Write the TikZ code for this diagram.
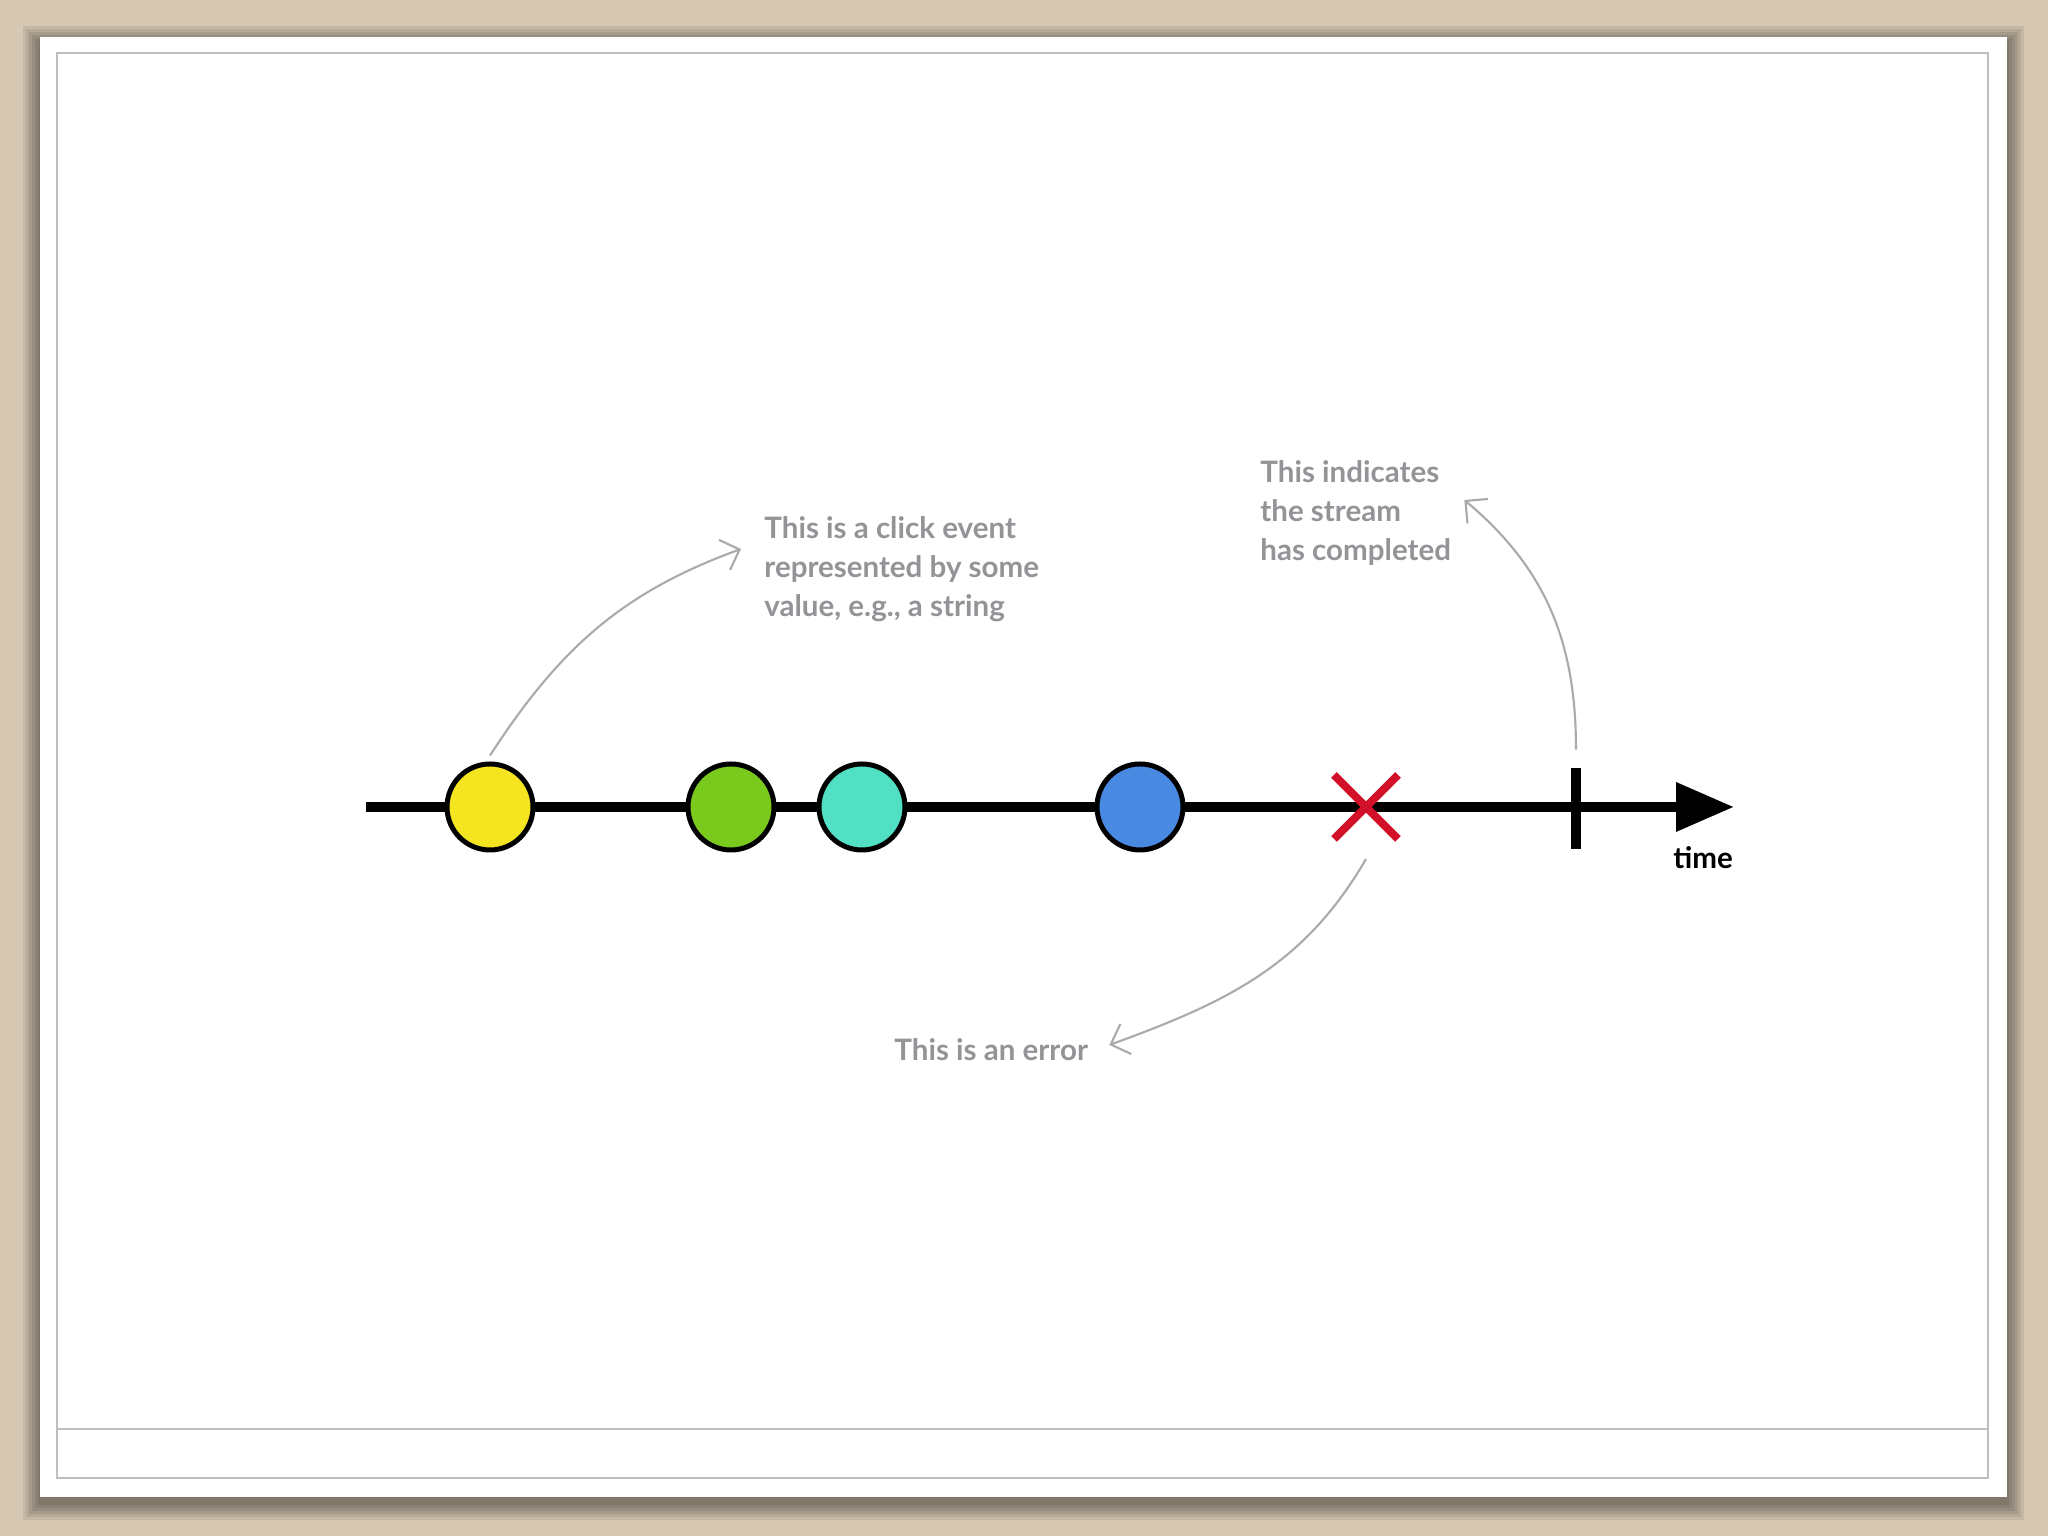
\documentclass[tikz,border=0pt]{standalone}
\usepackage{fontspec}
\setmainfont{Lato}
\usepackage{tikz}
\usetikzlibrary{arrows,arrows.meta,shapes.misc}

\definecolor{paperbg}{RGB}{214,200,178}
\definecolor{framegray}{RGB}{190,190,192}
\definecolor{notegray}{RGB}{148,148,152}
\definecolor{linegray}{RGB}{170,170,172}
\definecolor{evyellow}{RGB}{245,228,32}
\definecolor{evgreen}{RGB}{122,202,30}
\definecolor{evteal}{RGB}{82,224,196}
\definecolor{evblue}{RGB}{72,138,226}
\definecolor{errred}{RGB}{210,16,42}

\begin{document}
\begin{tikzpicture}[thick,
event node/.style={circle,draw=black,line width=0.05cm,minimum size=0.86cm,inner sep=0pt},
note/.style={font=\fontsize{8.4}{11.1}\selectfont\bfseries,text=notegray,align=left,inner sep=0pt},
pointer/.style={draw=linegray,line width=0.6pt,-{Straight Barb[length=0.16cm,width=0.32cm]}}]

  % paper on the desk
  \useasboundingbox (0,0) rectangle (20.48,15.36);
  \fill[paperbg] (0,0) rectangle (20.48,15.36);
  \foreach \s in {0.02,0.05,...,0.17}
    \fill[black,opacity=0.08] (0.40-\s,0.33-\s) rectangle (20.07+\s,14.93+\s);
  \fill[white] (0.40,0.39) rectangle (20.07,14.99);
  \draw[framegray,line width=0.02cm] (0.57,0.58) rectangle (19.88,14.83);
  \draw[framegray,line width=0.02cm] (0.57,1.07) -- (19.88,1.07);

  % the stream
  \coordinate (start) at (3.66,7.29);
  \coordinate (end) at (17.34,7.29);
  \draw[line width=0.1cm,-{Triangle[length=0.58cm,width=0.47cm]}] (start) -- (end);

  \node[event node,fill=evyellow] (click) at (4.90,7.29) {};
  \node[event node,fill=evgreen] (second) at (7.31,7.29) {};
  \node[event node,fill=evteal] (third) at (8.62,7.29) {};
  \node[event node,fill=evblue] (fourth) at (11.40,7.29) {};
  \node[cross out,draw=errred,line width=0.08cm,minimum size=0.56cm] (error) at (13.66,7.29) {};
  \node[fill=black,inner sep=0pt,minimum width=0.1cm,minimum height=0.81cm] (done) at (15.76,7.275) {};
  \node[font=\fontsize{8.4}{9}\selectfont\bfseries] (time) at (17.03,6.78) {time};

  % notes
  \node[note,anchor=west] (click note) at (7.63,9.67)
    {This is a click event\\represented by some\\value, e.g., a string};
  \node[note,anchor=west] (done note) at (12.59,10.23)
    {This indicates\\the stream\\has completed};
  \node[note,anchor=west] (error note) at (8.93,4.86) {This is an error};

  \draw[pointer] ([yshift=0.06cm]click.north) to[out=57,in=200]
    ([xshift=-0.22cm,yshift=0.2cm]click note.west);
  \draw[pointer] ([yshift=0.17cm]done.north) to[out=90,in=-40]
    ([xshift=0.12cm,yshift=0.13cm]done note.east);
  \draw[pointer] ([yshift=-0.2cm]error.south) to[out=-120,in=20]
    ([xshift=0.2cm,yshift=0.05cm]error note.east);
\end{tikzpicture}
\end{document}
